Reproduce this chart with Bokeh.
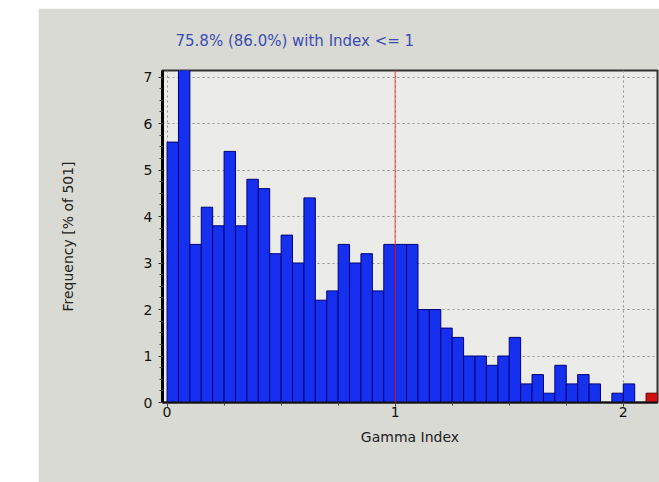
from bokeh.plotting import figure
from bokeh.models import Range1d, Span, SingleIntervalTicker, ColumnDataSource
from bokeh.embed import file_html
from bokeh.resources import INLINE

# ---- data ----
bin_start = [0.00, 0.05, 0.10, 0.15, 0.20, 0.25, 0.30, 0.35, 0.40, 0.45,
             0.50, 0.55, 0.60, 0.65, 0.70, 0.75, 0.80, 0.85, 0.90, 0.95,
             1.00, 1.05, 1.10, 1.15, 1.20, 1.25, 1.30, 1.35, 1.40, 1.45,
             1.50, 1.55, 1.60, 1.65, 1.70, 1.75, 1.80, 1.85, 1.90, 1.95,
             2.00, 2.05]
frequency = [5.6, 7.4, 3.4, 4.2, 3.8, 5.4, 3.8, 4.8, 4.6, 3.2,
             3.6, 3.0, 4.4, 2.2, 2.4, 3.4, 3.0, 3.2, 2.4, 3.4,
             3.4, 3.4, 2.0, 2.0, 1.6, 1.4, 1.0, 1.0, 0.8, 1.0,
             1.4, 0.4, 0.6, 0.2, 0.8, 0.4, 0.6, 0.4, 0.0, 0.2,
             0.4, 0.0]
overflow_start = [2.10]
overflow_freq = [0.2]
bin_width = 0.05
threshold = 1.0
title_text = "75.8% (86.0%) with Index <= 1"

FONT = "DejaVu Sans"

src = ColumnDataSource(dict(left=bin_start,
                            right=[b + bin_width for b in bin_start],
                            top=frequency))
src_over = ColumnDataSource(dict(left=overflow_start,
                                 right=[b + bin_width for b in overflow_start],
                                 top=overflow_freq))

p = figure(width=621, height=474,
           x_range=Range1d(-0.02, 2.15), y_range=Range1d(0, 7.14),
           output_backend="svg", toolbar_location=None,
           min_border_left=124, min_border_right=2,
           min_border_top=62, min_border_bottom=80)
p.margin = (8, 0, 0, 38)

p.background_fill_color = "#ebebe8"
p.border_fill_color = "#dadad5"
p.outline_line_color = "#333333"
p.outline_line_width = 2

p.quad(left="left", right="right", bottom=0, top="top", source=src,
       fill_color="#1530ee", line_color="#00007a", line_width=1)
p.quad(left="left", right="right", bottom=0, top="top", source=src_over,
       fill_color="#d01010", line_color="#600000", line_width=1)

p.add_layout(Span(location=threshold, dimension="height",
                  line_color="#ff3030", line_alpha=0.6, line_width=1.5))

# title
p.title.text = title_text
p.title.align = "left"
p.title.offset = 13
p.title.standoff = 42
p.title.text_font = FONT
p.title.text_font_size = "15px"
p.title.text_font_style = "normal"
p.title.text_color = "#3a4cb4"

# axes
for ax in (p.xaxis[0], p.yaxis[0]):
    ax.ticker = SingleIntervalTicker(interval=1, num_minor_ticks=4)
    ax.major_label_text_font = FONT
    ax.major_label_text_font_size = "14px"
    ax.major_label_text_color = "#111111"
    ax.axis_label_text_font = FONT
    ax.axis_label_text_font_size = "14px"
    ax.axis_label_text_font_style = "normal"
    ax.axis_label_text_color = "#222222"
    ax.major_tick_in = 0
    ax.major_tick_out = 4
    ax.minor_tick_in = 0
    ax.minor_tick_out = 3
    ax.major_tick_line_color = "#222222"
    ax.minor_tick_line_color = "#444444"

p.xaxis.axis_label = "Gamma Index"
p.yaxis.axis_label = "Frequency [% of 501]"
p.yaxis.axis_line_width = 3
p.yaxis.axis_line_color = "#000000"
p.xaxis.axis_line_width = 2
p.xaxis.axis_line_color = "#111111"
p.xaxis.axis_label_standoff = 9
p.yaxis.axis_label_standoff = 65
p.yaxis.major_label_standoff = 6
p.xaxis.major_label_standoff = 0

p.xgrid.grid_line_color = "#909090"
p.xgrid.grid_line_dash = "2 3"
p.ygrid.grid_line_color = "#909090"
p.ygrid.grid_line_dash = "2 3"

open("out.html", "w").write(file_html(p, INLINE))
